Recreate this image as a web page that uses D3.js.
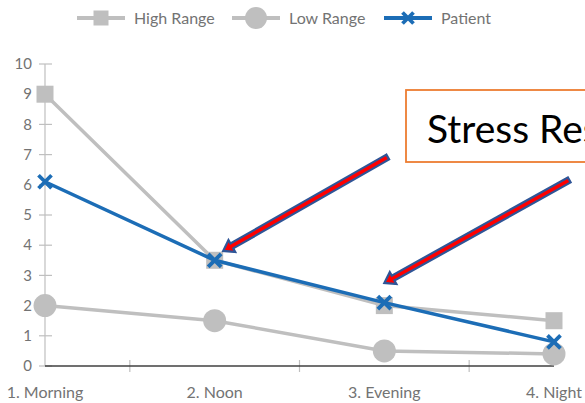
<!DOCTYPE html>
<html>
<head>
<meta charset="utf-8">
<script src="https://cdn.jsdelivr.net/npm/d3@7"></script>
<style>
  html, body { margin: 0; padding: 0; background: #fff; }
  svg { display: block; font-family: Lato, "Open Sans", sans-serif; }
</style>
</head>
<body>
<svg id="chart" width="585" height="403"></svg>
<script>
// Daily readings by time of day
const categories = ["1. Morning", "2. Noon", "3. Evening", "4. Night"];
const highRange = [9, 3.5, 2, 1.5];
const lowRange = [2, 1.5, 0.5, 0.4];
const patient = [6.1, 3.5, 2.1, 0.8];
const yTicks = [0, 1, 2, 3, 4, 5, 6, 7, 8, 9, 10];
const seriesNames = ["High Range", "Low Range", "Patient"];

// Annotation arrows: tail and tip in (category index, value) space
const arrowTails = [[2.02, 6.92], [3.09, 6.16]];
const arrowTips = [[1.05, 3.81], [2.0, 2.75]];
const calloutText = "Stress Response";

const svg = d3.select("#chart");
const grey = "#bfbfbf";
const blue = "#1c6db6";
const textGrey = "#737373";

const x = d3.scaleLinear().domain([0, categories.length - 1]).range([45, 554]);
const y = d3.scaleLinear().domain([0, 10]).range([366, 64]);

// Y axis: grey line with crossing ticks
const yAxis = svg.append("g");
yAxis.append("line")
  .attr("x1", x(0)).attr("x2", x(0))
  .attr("y1", y(10)).attr("y2", y(0))
  .attr("stroke", grey).attr("stroke-width", 1.2);
yAxis.selectAll("line.tick").data(yTicks).join("line")
  .attr("class", "tick")
  .attr("x1", x(0) - 6).attr("x2", x(0) + 7)
  .attr("y1", d => y(d)).attr("y2", d => y(d))
  .attr("stroke", grey).attr("stroke-width", 1.2);
yAxis.selectAll("text").data(yTicks).join("text")
  .attr("x", 32).attr("y", d => y(d))
  .attr("dy", "0.35em")
  .attr("text-anchor", "end")
  .attr("font-size", 15)
  .attr("fill", textGrey)
  .text(d => d);

// X axis: dark baseline, ticks between categories
const xAxis = svg.append("g");
const between = d3.range(categories.length - 1).map(i => i + 0.5);
xAxis.selectAll("line.tick").data(between).join("line")
  .attr("class", "tick")
  .attr("x1", d => x(d)).attr("x2", d => x(d))
  .attr("y1", y(0) - 6).attr("y2", y(0) + 6)
  .attr("stroke", grey).attr("stroke-width", 1.2);
xAxis.append("line")
  .attr("x1", x(0)).attr("x2", x(categories.length - 1))
  .attr("y1", y(0)).attr("y2", y(0))
  .attr("stroke", "#404040").attr("stroke-width", 1.3);
xAxis.selectAll("text").data(categories).join("text")
  .attr("x", (d, i) => x(i)).attr("y", 392)
  .attr("dy", "0.35em")
  .attr("text-anchor", "middle")
  .attr("font-size", 16)
  .attr("fill", textGrey)
  .text(d => d);

const line = d3.line().x((d, i) => x(i)).y(d => y(d));

function drawSquare(g, cx, cy, s) {
  g.append("rect").attr("x", cx - s / 2).attr("y", cy - s / 2)
    .attr("width", s).attr("height", s).attr("fill", grey);
}
function drawCircle(g, cx, cy, r) {
  g.append("circle").attr("cx", cx).attr("cy", cy).attr("r", r).attr("fill", grey);
}
function drawCross(g, cx, cy, h) {
  g.append("path")
    .attr("d", `M${cx - h},${cy - h}L${cx + h},${cy + h}M${cx - h},${cy + h}L${cx + h},${cy - h}`)
    .attr("stroke", blue).attr("stroke-width", 3.8).attr("fill", "none");
}

// Series
const gHigh = svg.append("g");
gHigh.append("path").attr("d", line(highRange))
  .attr("fill", "none").attr("stroke", grey).attr("stroke-width", 3.5);
highRange.forEach((v, i) => drawSquare(gHigh, x(i), y(v), 17));

const gLow = svg.append("g");
gLow.append("path").attr("d", line(lowRange))
  .attr("fill", "none").attr("stroke", grey).attr("stroke-width", 3.5);
lowRange.forEach((v, i) => drawCircle(gLow, x(i), y(v), 11.5));

const gPat = svg.append("g");
gPat.append("path").attr("d", line(patient))
  .attr("fill", "none").attr("stroke", blue).attr("stroke-width", 3.5);
patient.forEach((v, i) => drawCross(gPat, x(i), y(v), 6.5));

// Legend
const legendY = 18;
const legendItems = [
  { name: seriesNames[0], x0: 77, tx: 134, color: grey, mark: drawSquare, size: 15 },
  { name: seriesNames[1], x0: 232, tx: 289, color: grey, mark: drawCircle, size: 11 },
  { name: seriesNames[2], x0: 384, tx: 441, color: blue, mark: drawCross, size: 5.5 }
];
const gLeg = svg.append("g");
legendItems.forEach(it => {
  gLeg.append("line")
    .attr("x1", it.x0).attr("x2", it.x0 + 48)
    .attr("y1", legendY).attr("y2", legendY)
    .attr("stroke", it.color).attr("stroke-width", 4);
  it.mark(gLeg, it.x0 + 24, legendY, it.size);
  gLeg.append("text")
    .attr("x", it.tx).attr("y", legendY).attr("dy", "0.35em")
    .attr("font-size", 16).attr("fill", textGrey)
    .text(it.name);
});

// Callout box, running past the right edge
const gCall = svg.append("g");
gCall.append("rect")
  .attr("x", 406).attr("y", 90).attr("width", 220).attr("height", 72)
  .attr("fill", "#fff").attr("stroke", "#ed7d31").attr("stroke-width", 1.8);
gCall.append("text")
  .attr("x", 427).attr("y", 143)
  .attr("font-size", 39).attr("fill", "#000")
  .text(calloutText);

// Block arrows pointing at the patient line
function arrowPath(t, p) {
  const x1 = x(t[0]), y1 = y(t[1]), x2 = x(p[0]), y2 = y(p[1]);
  const dx = x2 - x1, dy = y2 - y1, L = Math.hypot(dx, dy);
  const ux = dx / L, uy = dy / L, nx = -uy, ny = ux;
  const sw = 2.8, hw = 6.8, hl = 10;
  const bx = x2 - ux * hl, by = y2 - uy * hl;
  const pts = [
    [x1 + nx * sw, y1 + ny * sw],
    [bx + nx * sw, by + ny * sw],
    [bx + nx * hw, by + ny * hw],
    [x2, y2],
    [bx - nx * hw, by - ny * hw],
    [bx - nx * sw, by - ny * sw],
    [x1 - nx * sw, y1 - ny * sw]
  ];
  return "M" + pts.map(q => q.join(",")).join("L") + "Z";
}
const gArr = svg.append("g");
arrowTails.forEach((t, i) => {
  gArr.append("path")
    .attr("d", arrowPath(t, arrowTips[i]))
    .attr("fill", "#ff0000").attr("stroke", "#2f5597")
    .attr("stroke-width", 2.2).attr("stroke-linejoin", "miter");
});
</script>
</body>
</html>
